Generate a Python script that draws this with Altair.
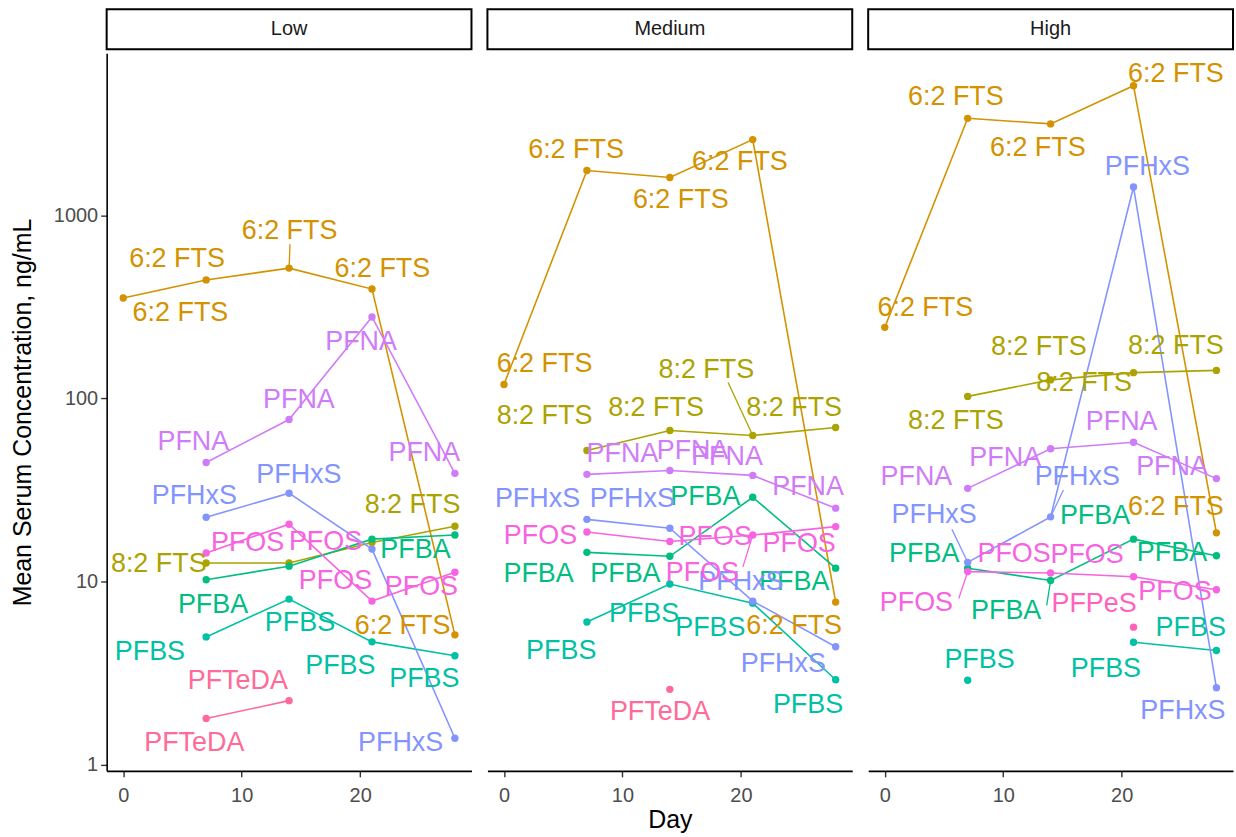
import altair as alt
import pandas as pd

# Sampling days and dose groups
DAYS = [0, 7, 14, 21, 28]
DOSES = ["Low", "Medium", "High"]

# Compounds and their colours
COMPOUNDS = ["6:2 FTS", "8:2 FTS", "PFBA", "PFBS", "PFHxS", "PFNA", "PFOS", "PFPeS", "PFTeDA"]
COLORS = ["#D39200", "#ABA300", "#00BE82", "#00C1A3", "#8494FF", "#D07CF8", "#F763E0", "#FF62BC", "#FF6A98"]

# Mean serum concentration (ng/mL) per day; None = not measured
low_values = {
    "6:2 FTS": [353, 443, 514, 395, 5.1],
    "8:2 FTS": [None, 12.6, 12.6, 16.3, 20.0],
    "PFBA": [None, 10.2, 12.1, 17.0, 17.9],
    "PFBS": [None, 4.97, 8.0, 4.67, 3.92],
    "PFHxS": [None, 22.4, 30.3, 15.0, 1.39],
    "PFNA": [None, 44.6, 76.5, 278, 38.9],
    "PFOS": [None, 14.3, 20.5, 7.8, 11.2],
    "PFTeDA": [None, 1.78, 2.23, None, None],
}
medium_values = {
    "6:2 FTS": [119, 1755, 1607, 2588, 7.7],
    "8:2 FTS": [None, 51.8, 66.7, 62.6, 69.2],
    "PFBA": [None, 14.4, 13.7, 28.8, 11.8],
    "PFBS": [None, 6.0, 9.67, 7.6, 2.90],
    "PFHxS": [None, 21.8, 19.5, 7.8, 4.39],
    "PFNA": [None, 38.4, 40.3, 37.9, 25.1],
    "PFOS": [None, 18.6, 16.5, 17.9, 19.9],
    "PFTeDA": [None, None, 2.57, None, None],
}
high_values = {
    "6:2 FTS": [244, 3382, 3153, 5096, 18.4],
    "8:2 FTS": [None, 102.4, 126, 138, 142],
    "PFBA": [None, 11.8, 10.1, 17.0, 13.8],
    "PFBS": [None, 2.88, None, 4.65, 4.19],
    "PFHxS": [None, 12.7, 22.5, 1425, 2.62],
    "PFNA": [None, 32.2, 53.0, 57.5, 36.4],
    "PFOS": [None, 11.3, 11.1, 10.6, 9.0],
    "PFPeS": [None, None, None, 5.62, None],
}
VALUES = {"Low": low_values, "Medium": medium_values, "High": high_values}

# Repelled label placement: (days, log10 decades) away from each point; None = label dropped
low_nudge = {
    "6:2 FTS": [(4.83, -0.082), (-2.46, 0.112), (0.04, 0.201), (0.875, 0.109), (-4.42, 0.049)],
    "8:2 FTS": [None, (-4.0, -0.005), None, None, (-3.58, 0.114)],
    "PFBA": [None, (0.58, -0.136), None, (3.67, -0.06), None],
    "PFBS": [None, (-4.75, -0.082), (0.92, -0.131), (-2.67, -0.131), (-2.58, -0.125)],
    "PFHxS": [None, (-1.0, 0.114), (0.83, 0.098), None, (-4.58, -0.027)],
    "PFNA": [None, (-1.08, 0.114), (0.83, 0.109), (-0.92, -0.136), (-2.58, 0.109)],
    "PFOS": [None, (3.5, 0.054), (3.08, -0.098), (-3.08, 0.107), (-2.83, -0.078)],
    "PFTeDA": [None, (-1.0, -0.136), (-4.33, 0.109), None, None],
}
medium_nudge = {
    "6:2 FTS": [(3.42, 0.109), (-0.92, 0.109), (0.92, -0.125), (-1.08, -0.125), (-3.5, -0.131)],
    "8:2 FTS": [None, (-3.58, 0.19), (-1.17, 0.125), (-3.92, 0.359), (-3.5, 0.109)],
    "PFBA": [None, (-4.08, -0.12), (-3.75, -0.098), (-4.0, 0.0), (-3.5, -0.076)],
    "PFBS": [None, (-2.17, -0.158), (-2.17, -0.163), (-3.58, -0.136), (-2.33, -0.136)],
    "PFHxS": [None, (-4.17, 0.109), (-3.17, 0.158), (-1.0, 0.103), (-4.42, -0.093)],
    "PFNA": [None, (3.0, 0.109), (1.92, 0.109), (-2.17, 0.098), (-2.33, 0.114)],
    "PFOS": [None, (-3.92, -0.022), (3.83, 0.027), (-4.25, -0.207), (-3.08, -0.093)],
    "PFTeDA": [None, None, (-0.83, -0.125), None, None],
}
high_nudge = {
    "6:2 FTS": [(3.42, 0.103), (-1.0, 0.114), (-1.08, -0.131), (3.58, 0.065), (-3.42, 0.142)],
    "8:2 FTS": [None, (-1.0, -0.136), (-1.0, 0.18), (-4.17, -0.054), (-3.42, 0.131)],
    "PFBA": [None, (-3.67, 0.076), (-3.75, -0.169), (-3.25, 0.125), (-3.75, 0.016)],
    "PFBS": [None, (1.0, 0.109), None, (-2.33, -0.147), (-2.17, 0.12)],
    "PFHxS": [None, (-2.83, 0.256), (2.25, 0.218), (1.17, 0.109), (-2.83, -0.125)],
    "PFNA": [None, (-4.33, 0.06), (-3.83, -0.049), (-1.0, 0.109), (-3.75, 0.065)],
    "PFOS": [None, (-4.33, -0.174), (-3.08, 0.103), (-3.92, 0.12), (-3.5, -0.011)],
    "PFPeS": [None, None, None, (-3.33, 0.125), None],
}
NUDGE = {"Low": low_nudge, "Medium": medium_nudge, "High": high_nudge}

# Leader segments for labels pushed far from their point: (dose, compound, day index) -> end offset
SEGMENTS = {
    ("Low", "6:2 FTS", 2): (0.08, 0.131),
    ("Medium", "8:2 FTS", 3): (-2.08, 0.289),
    ("Medium", "PFOS", 3): (-0.83, -0.174),
    ("High", "PFHxS", 1): (-1.33, 0.18),
    ("High", "PFHxS", 2): (1.08, 0.147),
    ("High", "PFBA", 2): (-0.33, -0.136),
    ("High", "PFOS", 1): (-0.75, -0.147),
}

# Build long-format tables
point_rows, label_rows, seg_rows = [], [], []
for dose in DOSES:
    for comp, vals in VALUES[dose].items():
        run = 0
        prev_missing = True
        for i, (day, v) in enumerate(zip(DAYS, vals)):
            if v is None:
                prev_missing = True
                continue
            if prev_missing:
                run += 1
            prev_missing = False
            point_rows.append({"dose": dose, "compound": comp, "day": day, "value": v,
                               "run": f"{comp}-{run}"})
            nd = NUDGE[dose][comp][i]
            if nd is not None:
                label_rows.append({"dose": dose, "compound": comp,
                                   "lx": day + nd[0], "ly": v * 10 ** nd[1]})
            sg = SEGMENTS.get((dose, comp, i))
            if sg is not None:
                seg_rows.append({"dose": dose, "compound": comp, "day": day, "value": v,
                                 "sx": day + sg[0], "sy": v * 10 ** sg[1]})

points = pd.DataFrame(point_rows)
labels = pd.DataFrame(label_rows)
segs = pd.DataFrame(seg_rows)

PANEL_W = 366
PANEL_H = 720
STRIP_H = 40

x_scale = alt.Scale(domain=[-1.4, 29.4], nice=False, zero=False)
y_scale = alt.Scale(type="log", domain=[0.922, 7674], nice=False)
color_scale = alt.Scale(domain=COMPOUNDS, range=COLORS)
color = alt.Color("compound:N", scale=color_scale, legend=None)


def panel(dose):
    first = dose == "Low"
    x_title = "Day" if dose == "Medium" else None
    x_axis = alt.Axis(values=[0, 10, 20], title=x_title)
    if first:
        y_axis = alt.Axis(values=[1, 10, 100, 1000], format="d",
                          title="Mean Serum Concentration, ng/mL")
    else:
        y_axis = None

    def xy(xf, yf):
        return dict(
            x=alt.X(f"{xf}:Q", scale=x_scale, axis=x_axis, title=x_title),
            y=alt.Y(f"{yf}:Q", scale=y_scale, axis=y_axis),
        )

    pts = alt.Chart(points[points.dose == dose])
    lines = pts.mark_line(strokeWidth=1.6).encode(
        **xy("day", "value"), color=color, detail="run:N", order="day:Q")
    dots = pts.mark_circle(size=55, opacity=1).encode(**xy("day", "value"), color=color)
    layers = [lines, dots]
    sub = segs[segs.dose == dose] if len(segs) else segs
    if len(sub):
        rules = alt.Chart(sub).mark_rule(strokeWidth=1.3).encode(
            **xy("day", "value"), x2="sx:Q", y2="sy:Q", color=color)
        layers.append(rules)
    texts = alt.Chart(labels[labels.dose == dose]).mark_text(
        fontSize=27, font="Liberation Sans", align="center", baseline="middle"
    ).encode(**xy("lx", "ly"), text="compound:N", color=color)
    layers.append(texts)
    return alt.layer(*layers).properties(width=PANEL_W, height=PANEL_H)


def strip(dose):
    base = alt.Chart(pd.DataFrame({"dose": [dose]}))
    box = base.mark_rect(fill="white", stroke="black", strokeWidth=2).encode(
        x=alt.value(0), x2=alt.value(PANEL_W), y=alt.value(0), y2=alt.value(STRIP_H))
    txt = base.mark_text(fontSize=20, font="Liberation Sans", color="#1A1A1A",
                         baseline="middle").encode(
        x=alt.value(PANEL_W / 2), y=alt.value(STRIP_H / 2), text="dose:N")
    return alt.layer(box, txt).properties(width=PANEL_W, height=STRIP_H)


chart = alt.hconcat(
    *[alt.vconcat(strip(d), panel(d), spacing=3) for d in DOSES],
    spacing=14,
).properties(
    padding={"left": 10, "top": 7, "right": 2, "bottom": 0},
).configure_view(
    stroke=None
).configure_axis(
    grid=False,
    domainColor="black",
    domainWidth=1.6,
    tickColor="#333333",
    tickWidth=1.4,
    tickSize=6,
    labelColor="#4D4D4D",
    labelFontSize=20,
    labelFont="Liberation Sans",
    labelPadding=3,
    titleFont="Liberation Sans",
    titleFontSize=25,
    titleFontWeight="normal",
    titleColor="black",
).configure_axisY(
    titlePadding=18,
).configure_axisX(
    labelPadding=9,
    titlePadding=2,
)

chart.save("out.html", embed_options={"renderer": "svg", "actions": False})
